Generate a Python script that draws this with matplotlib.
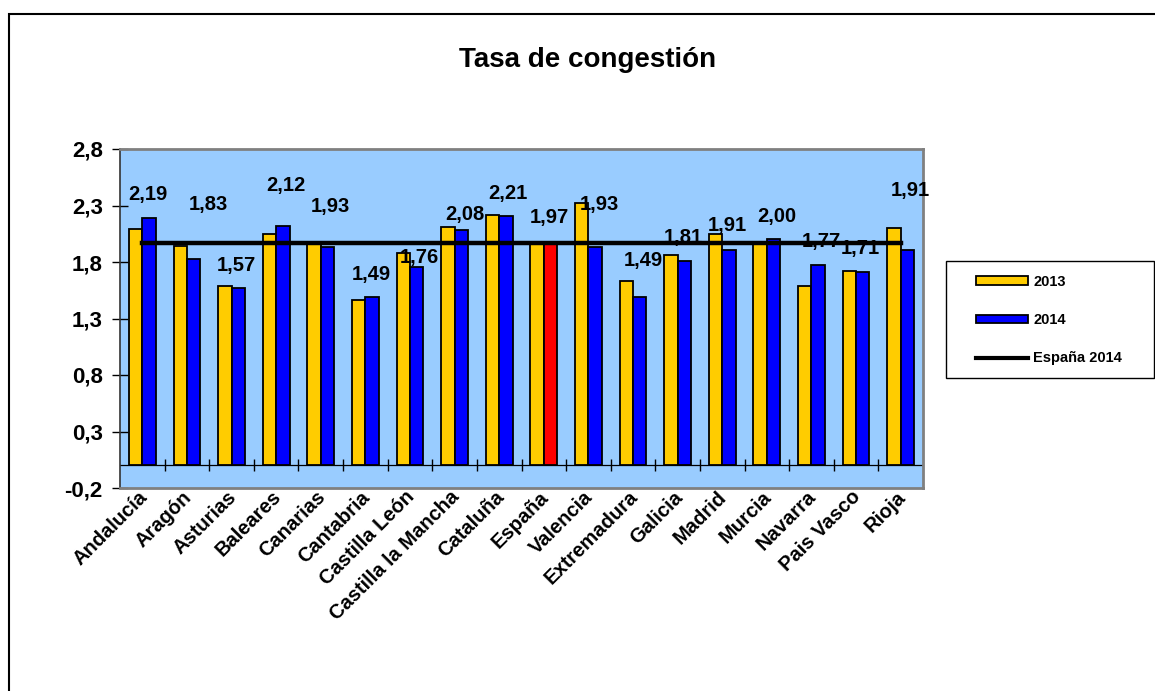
import matplotlib
matplotlib.use("Agg")
import matplotlib.pyplot as plt
from matplotlib.patches import Rectangle, Patch
from matplotlib.lines import Line2D
from matplotlib.transforms import ScaledTranslation
import numpy as np

plt.rcParams['font.family'] = ['Liberation Sans', 'DejaVu Sans']

categories = ["Andalucía", "Aragón", "Asturias", "Baleares", "Canarias", "Cantabria",
              "Castilla León", "Castilla la Mancha", "Cataluña", "España", "Valencia",
              "Extremadura", "Galicia", "Madrid", "Murcia", "Navarra", "Pais Vasco", "Rioja"]
values_2013 = [2.09, 1.94, 1.59, 2.05, 1.98, 1.46, 1.88, 2.11, 2.22, 1.97, 2.32,
               1.63, 1.86, 2.05, 1.96, 1.59, 1.72, 2.10]
values_2014 = [2.19, 1.83, 1.57, 2.12, 1.93, 1.49, 1.76, 2.08, 2.21, 1.97, 1.93,
               1.49, 1.81, 1.91, 2.00, 1.77, 1.71, 1.91]
espana_2014 = 1.97
yticks = [-0.2, 0.3, 0.8, 1.3, 1.8, 2.3, 2.8]

# label placement (offsets relative to the 2014 bar)
label_dx = [0.13, 0.49, 0.11, 0.22, 0.22, 0.13, 0.22, 0.22, 0.20, 0.13, 0.25,
            0.22, 0.13, 0.11, 0.22, 0.22, 0.09, 0.22]
label_dy = [0.21, 0.48, 0.20, 0.36, 0.36, 0.20, 0.08, 0.14, 0.20, 0.22, 0.38,
            0.32, 0.21, 0.21, 0.20, 0.21, 0.21, 0.52]

W, H = 1155, 691
fig = plt.figure(figsize=(W / 100, H / 100), dpi=100)
fig.patch.set_facecolor('white')

# outer chart border
fig.add_artist(Rectangle((9 / W, -0.1), 1.2, (H - 14) / H + 0.1, transform=fig.transFigure,
                         fill=False, ec='black', lw=1.5))

ax = fig.add_axes([120 / W, 1 - 488 / H, (923 - 120) / W, (488 - 149) / H])
ax.set_facecolor('#99CCFF')

x = np.arange(len(categories))
bw = 0.3
c2014 = ['#FF0000' if c == 'España' else '#0000FF' for c in categories]
b13 = ax.bar(x - bw / 2, values_2013, bw, color='#FFCC00', edgecolor='black', linewidth=1.3, zorder=3)
b14 = ax.bar(x + bw / 2, values_2014, bw, color=c2014, edgecolor='black', linewidth=1.3, zorder=3)
ax.plot(x, [espana_2014] * len(x), color='black', lw=3.2, zorder=4)

ax.axhline(0, color='black', lw=0.9, zorder=2)

for i, v in enumerate(values_2014):
    ax.text(i + label_dx[i], v + label_dy[i], f"{v:.2f}".replace('.', ','),
            ha='center', va='center', fontsize=14.5, fontweight='bold', zorder=5)

ax.set_xlim(-0.5, len(categories) - 0.5)
ax.set_ylim(yticks[0], yticks[-1])
ax.set_yticks(yticks)
ax.set_yticklabels([f"{t:.1f}".replace('.', ',') for t in yticks], fontsize=16, fontweight='bold')
ax.tick_params(axis='y', direction='inout', length=11, width=1, color='black', pad=7)

ax.set_xticks(x)
ax.set_xticklabels(categories, rotation=45, ha='right', va='top', rotation_mode='anchor',
                   fontsize=14.5, fontweight='bold')
ax.tick_params(axis='x', length=0, pad=1)
shift = ScaledTranslation(-5 / 100, 2 / 100, fig.dpi_scale_trans)
for lbl in ax.get_xticklabels():
    lbl.set_transform(lbl.get_transform() + shift)

for s in ['top', 'right', 'bottom']:
    ax.spines[s].set_color('#808080')
    ax.spines[s].set_linewidth(2)
ax.spines['left'].set_color('#333333')
ax.spines['left'].set_linewidth(1.2)

# category-axis tick marks at group boundaries on the zero line
loc0 = (0 - yticks[0]) / (yticks[-1] - yticks[0])
sec = ax.secondary_xaxis(loc0)
sec.set_xticks(np.arange(len(categories) - 1) + 0.5)
sec.set_xticklabels([])
sec.tick_params(direction='inout', length=8.5, width=1, color='black')
sec.spines['bottom'].set_visible(False)
sec.spines['top'].set_visible(False)

fig.text(588 / W, 1 - 60 / H, "Tasa de congestión", ha='center', va='center',
         fontsize=20, fontweight='bold')

# legend
fig.add_artist(Rectangle((946 / W, 1 - 378 / H), (1154 - 946) / W, (378 - 261) / H,
                         transform=fig.transFigure, fill=False, ec='black', lw=1))
handles = [Patch(facecolor='#FFCC00', edgecolor='black', linewidth=1.3),
           Patch(facecolor='#0000FF', edgecolor='black', linewidth=1.3),
           Line2D([0], [0], color='black', lw=3)]
leg = fig.legend(handles, ['2013', '2014', 'España 2014'], loc='upper left',
                 bbox_to_anchor=(976 / W, 1 - 275 / H), frameon=False,
                 prop={'size': 10.5, 'weight': 'bold'}, handlelength=3.57, handleheight=0.55,
                 handletextpad=0.34, labelspacing=1.66, borderaxespad=0, borderpad=0)

fig.savefig('out.png', dpi=100)
